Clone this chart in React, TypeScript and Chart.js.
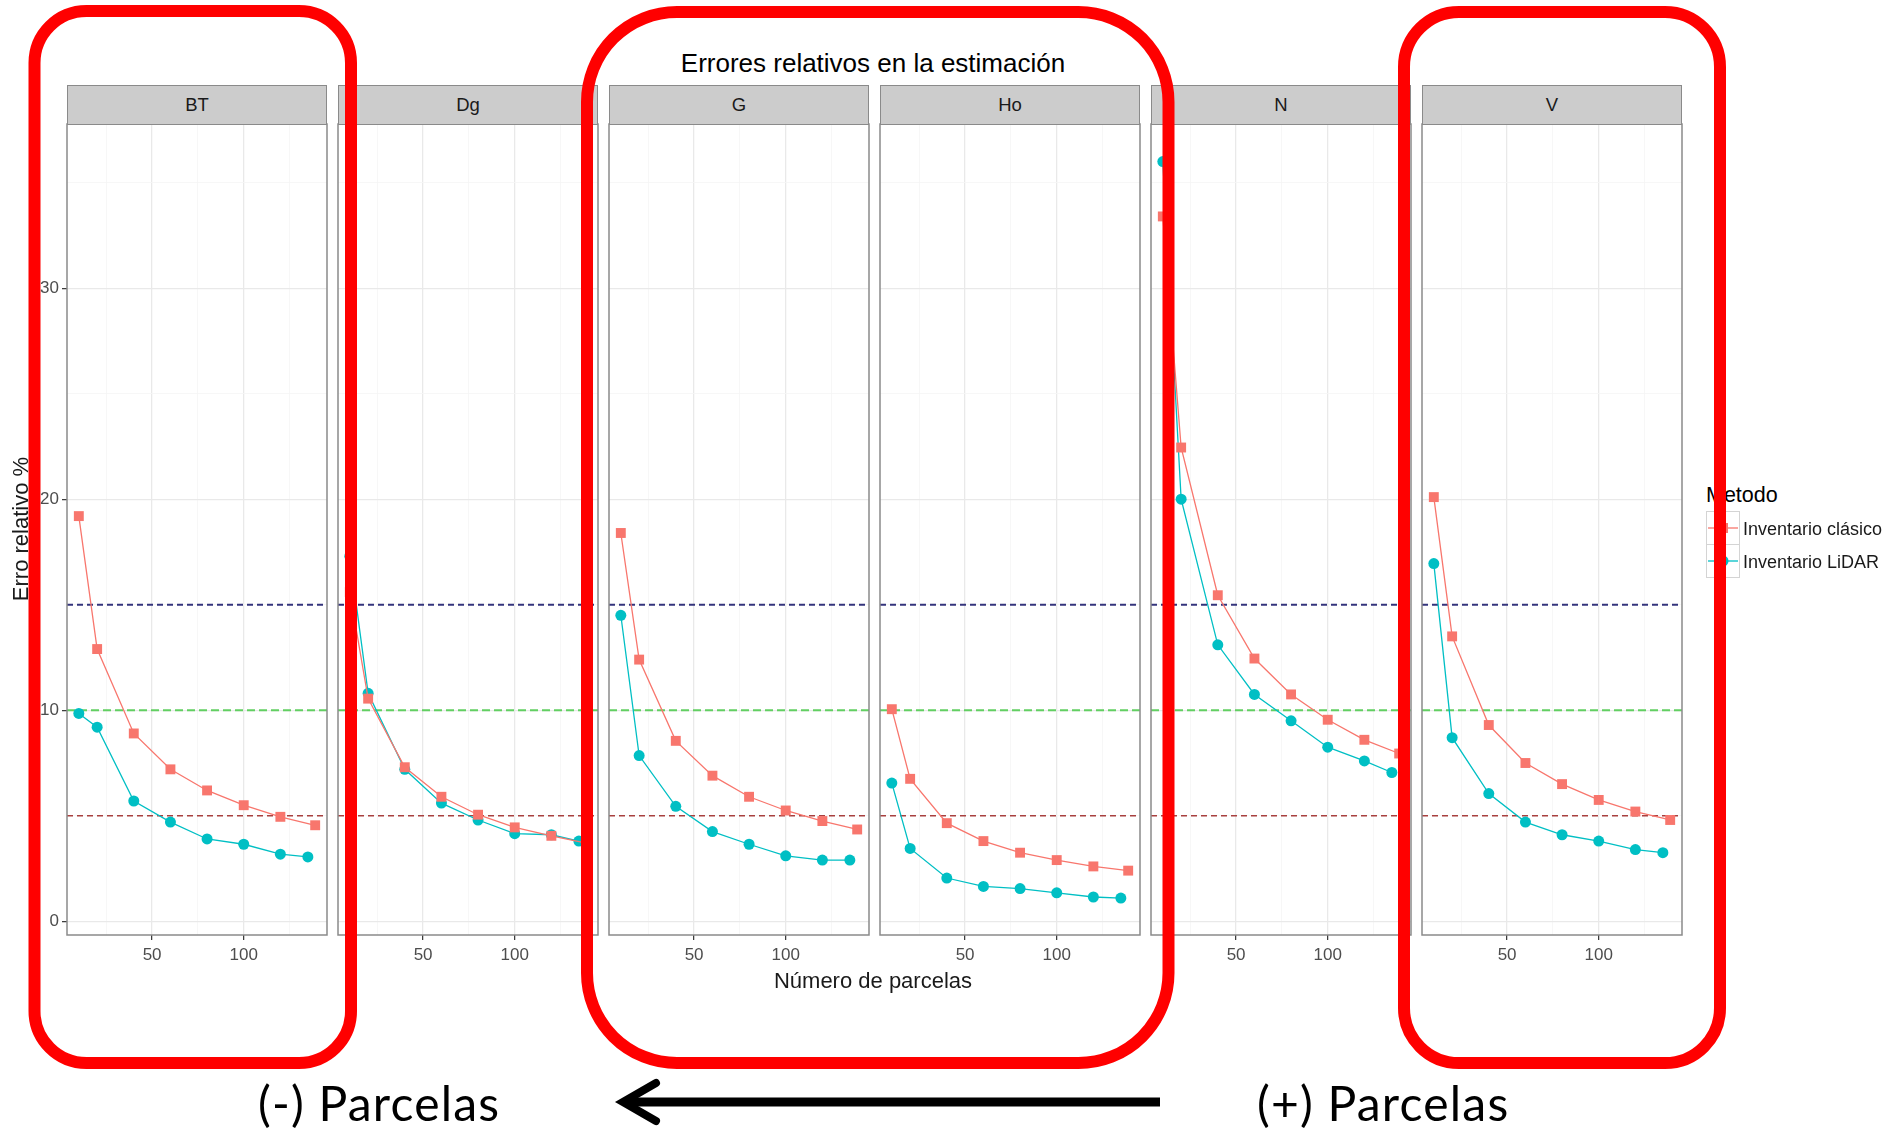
import React, { useEffect, useRef } from 'react';
import { Chart, registerables } from 'chart.js';

Chart.register(...registerables);

// ---------------- data ----------------
const panelNames = ['BT', 'Dg', 'G', 'Ho', 'N', 'V'];
const seriesNames = ['Inventario clásico', 'Inventario LiDAR'];

const xClasico = [10, 20, 40, 60, 80, 100, 120, 139];
const xLidar = [10, 20, 40, 60, 80, 100, 120, 135];

const clasicoBT = [19.2, 12.9, 8.9, 7.2, 6.2, 5.5, 4.95, 4.55];
const lidarBT = [9.85, 9.2, 5.7, 4.7, 3.9, 3.65, 3.18, 3.05];
const clasicoDg = [15.6, 10.55, 7.3, 5.9, 5.05, 4.45, 4.05, 3.7];
const lidarDg = [17.3, 10.8, 7.2, 5.6, 4.8, 4.15, 4.1, 3.8];
const clasicoG = [18.4, 12.4, 8.55, 6.9, 5.9, 5.25, 4.75, 4.35];
const lidarG = [14.5, 7.85, 5.45, 4.25, 3.65, 3.1, 2.9, 2.9];
const clasicoHo = [10.05, 6.75, 4.65, 3.8, 3.25, 2.9, 2.6, 2.4];
const lidarHo = [6.55, 3.45, 2.05, 1.65, 1.55, 1.35, 1.15, 1.1];
const clasicoN = [33.4, 22.45, 15.45, 12.45, 10.75, 9.55, 8.6, 7.95];
const lidarN = [36.0, 20.0, 13.1, 10.75, 9.5, 8.25, 7.6, 7.05];
const clasicoV = [20.1, 13.5, 9.3, 7.5, 6.5, 5.75, 5.2, 4.8];
const lidarV = [16.95, 8.7, 6.05, 4.7, 4.1, 3.8, 3.4, 3.25];

const clasicoByPanel = [clasicoBT, clasicoDg, clasicoG, clasicoHo, clasicoN, clasicoV];
const lidarByPanel = [lidarBT, lidarDg, lidarG, lidarHo, lidarN, lidarV];

const xMajorTicks = [50, 100];
const xMinorTicks = [25, 75, 125];
const yMajorTicks = [0, 10, 20, 30];
const yMinorTicks = [5, 15, 25, 35];

const refLevels = [15, 10, 5];

// ---------------- styles ----------------
const refColors = ['#34347c', '#62cf62', '#a8403f'];
const refDash = [[6, 4], [8, 4], [6, 4]];
const refWidth = [1.8, 2.2, 1.6];
const seriesColors = ['#F8766D', '#00BFC4'];

const X_MIN = 3.55;
const X_MAX = 145.45;
const Y_MIN = -0.65;
const Y_MAX = 37.78;

const PANEL_LEFT0 = 67;
const PANEL_STEP = 271;
const PANEL_W = 260;
const STRIP_TOP = 85;
const STRIP_H = 40;
const PLOT_TOP = 124;
const PLOT_H = 811;
const AXIS_W = 60;
const AXIS_H = 45;
const PAD_R = 12;
const PAD_T = 2;

const FONT = '"Liberation Sans", Arial, sans-serif';

const panelFrame = {
  id: 'panelFrame',
  beforeDatasetsDraw(chart: any) {
    const { ctx, chartArea } = chart;
    const y = chart.scales.y;
    ctx.save();
    refLevels.forEach((lvl, k) => {
      const py = y.getPixelForValue(lvl);
      ctx.beginPath();
      ctx.setLineDash(refDash[k]);
      ctx.strokeStyle = refColors[k];
      ctx.lineWidth = refWidth[k];
      ctx.moveTo(chartArea.left, py);
      ctx.lineTo(chartArea.right, py);
      ctx.stroke();
    });
    ctx.restore();
  },
  afterDraw(chart: any) {
    const { ctx, chartArea } = chart;
    ctx.save();
    ctx.strokeStyle = '#8a8a8a';
    ctx.lineWidth = 1.5;
    ctx.strokeRect(chartArea.left, chartArea.top, chartArea.right - chartArea.left, chartArea.bottom - chartArea.top);
    ctx.restore();
  },
};

const zeroPad = (s: any) => {
  s.paddingTop = 0;
  s.paddingBottom = 0;
  s.paddingLeft = 0;
  s.paddingRight = 0;
};

function makeConfig(i: number): any {
  const showY = i === 0;
  const isXMajor = (v: number) => xMajorTicks.includes(v);
  const isYMajor = (v: number) => yMajorTicks.includes(v);
  return {
    type: 'line',
    data: {
      datasets: [
        {
          label: seriesNames[0],
          data: xClasico.map((x, k) => ({ x, y: clasicoByPanel[i][k] })),
          borderColor: seriesColors[0],
          backgroundColor: seriesColors[0],
          borderWidth: 1.3,
          pointStyle: 'rect',
          pointRadius: 7,
          pointBorderWidth: 0,
          pointBackgroundColor: seriesColors[0],
          tension: 0,
          clip: false,
        },
        {
          label: seriesNames[1],
          data: xLidar.map((x, k) => ({ x, y: lidarByPanel[i][k] })),
          borderColor: seriesColors[1],
          backgroundColor: seriesColors[1],
          borderWidth: 1.3,
          pointStyle: 'circle',
          pointRadius: 5.5,
          pointBorderWidth: 0,
          pointBackgroundColor: seriesColors[1],
          tension: 0,
          clip: false,
        },
      ],
    },
    options: {
      animation: false,
      responsive: false,
      maintainAspectRatio: false,
      events: [],
      layout: { autoPadding: false, padding: { top: PAD_T, right: PAD_R, bottom: 0, left: 0 } },
      plugins: { legend: { display: false }, tooltip: { enabled: false }, title: { display: false } },
      scales: {
        x: {
          type: 'linear',
          min: X_MIN,
          max: X_MAX,
          afterBuildTicks: (s: any) => {
            s.ticks = [...xMinorTicks, ...xMajorTicks].sort((a, b) => a - b).map((v) => ({ value: v }));
          },
          afterFit: (s: any) => {
            s.height = AXIS_H;
            zeroPad(s);
          },
          border: { display: false },
          grid: {
            color: (c: any) => (c.tick && isXMajor(c.tick.value) ? '#e9e9e9' : '#f5f5f5'),
            lineWidth: (c: any) => (c.tick && isXMajor(c.tick.value) ? 1.3 : 0.8),
            drawTicks: true,
            tickLength: 5,
            tickWidth: 1.2,
            tickColor: (c: any) => (c.tick && isXMajor(c.tick.value) ? '#333333' : 'rgba(0,0,0,0)'),
          },
          ticks: {
            autoSkip: false,
            maxRotation: 0,
            minRotation: 0,
            padding: 5,
            color: '#4d4d4d',
            font: { size: 17, family: FONT },
            callback: (v: any) => (isXMajor(v) ? String(v) : ''),
          },
        },
        y: {
          type: 'linear',
          min: Y_MIN,
          max: Y_MAX,
          afterBuildTicks: (s: any) => {
            s.ticks = [...yMajorTicks, ...yMinorTicks].sort((a, b) => a - b).map((v) => ({ value: v }));
          },
          afterFit: (s: any) => {
            s.width = AXIS_W;
            zeroPad(s);
          },
          border: { display: false },
          grid: {
            color: (c: any) => (c.tick && isYMajor(c.tick.value) ? '#e9e9e9' : '#f5f5f5'),
            lineWidth: (c: any) => (c.tick && isYMajor(c.tick.value) ? 1.3 : 0.8),
            drawTicks: true,
            tickLength: 5,
            tickWidth: 1.2,
            tickColor: (c: any) => (showY && c.tick && isYMajor(c.tick.value) ? '#333333' : 'rgba(0,0,0,0)'),
          },
          ticks: {
            autoSkip: false,
            padding: 3,
            color: '#4d4d4d',
            font: { size: 17, family: FONT },
            callback: (v: any) => (showY && isYMajor(v) ? String(v) : ''),
          },
        },
      },
    },
    plugins: [panelFrame],
  };
}

const abs = (style: React.CSSProperties): React.CSSProperties => ({ position: 'absolute', ...style });

export default function App() {
  const refs = useRef<(HTMLCanvasElement | null)[]>([]);

  useEffect(() => {
    const charts = refs.current.map((c, i) => (c ? new Chart(c, makeConfig(i)) : null));
    return () => {
      charts.forEach((ch) => ch && ch.destroy());
    };
  }, []);

  const canvasW = AXIS_W + PANEL_W + PAD_R;
  const canvasH = PAD_T + PLOT_H + AXIS_H;
  const annoFont = 'Lato, "Open Sans", sans-serif';

  return (
    <div
      style={{
        position: 'absolute',
        left: 0,
        top: 0,
        width: 1901,
        height: 1134,
        background: '#ffffff',
        overflow: 'hidden',
        fontFamily: FONT,
      }}
    >
      {panelNames.map((name, i) => {
        const left = PANEL_LEFT0 + i * PANEL_STEP;
        return (
          <React.Fragment key={name}>
            <div style={abs({ left: left - AXIS_W, top: PLOT_TOP - PAD_T, width: canvasW, height: canvasH })}>
              <canvas
                ref={(el) => {
                  refs.current[i] = el;
                }}
                width={canvasW}
                height={canvasH}
                style={{ width: canvasW, height: canvasH, display: 'block' }}
              />
            </div>
            <div
              style={abs({
                left,
                top: STRIP_TOP,
                width: PANEL_W,
                height: STRIP_H,
                boxSizing: 'border-box',
                background: '#cccccc',
                border: '1.5px solid #8a8a8a',
                textAlign: 'center',
                lineHeight: STRIP_H - 3 + 'px',
                fontSize: 18.5,
                color: '#1a1a1a',
              })}
            >
              {name}
            </div>
          </React.Fragment>
        );
      })}

      {/* title */}
      <div style={abs({ left: 473, top: 46, width: 800, height: 34, lineHeight: '34px', textAlign: 'center', fontSize: 26, color: '#000' })}>
        Errores relativos en la estimación
      </div>

      {/* y-axis title */}
      <div
        style={abs({
          left: 21 - 150,
          top: 529 - 15,
          width: 300,
          height: 30,
          lineHeight: '30px',
          textAlign: 'center',
          fontSize: 22,
          color: '#1a1a1a',
          transform: 'rotate(-90deg)',
        })}
      >
        Erro relativo %
      </div>

      {/* x-axis title */}
      <div style={abs({ left: 673, top: 966, width: 400, height: 30, lineHeight: '30px', textAlign: 'center', fontSize: 22, color: '#1a1a1a' })}>
        Número de parcelas
      </div>

      {/* legend */}
      <div style={abs({ left: 1706, top: 480, height: 30, lineHeight: '30px', fontSize: 21.5, color: '#000', whiteSpace: 'nowrap' })}>Metodo</div>
      <svg style={abs({ left: 0, top: 0 })} width={1901} height={1134}>
        {seriesNames.map((s, k) => {
          const top = 511 + k * 33;
          return (
            <g key={s}>
              <rect x={1706.5} y={top + 0.5} width={33} height={33} fill="#ffffff" stroke="#d4d4d4" strokeWidth={1} />
              <line x1={1708} x2={1738} y1={top + 17} y2={top + 17} stroke={seriesColors[k]} strokeWidth={1.3} />
              {k === 0 ? (
                <rect x={1723 - 5} y={top + 17 - 5} width={10} height={10} fill={seriesColors[k]} />
              ) : (
                <circle cx={1723} cy={top + 17} r={5.5} fill={seriesColors[k]} />
              )}
            </g>
          );
        })}
      </svg>
      {seriesNames.map((s, k) => (
        <div
          key={s}
          style={abs({ left: 1743, top: 511 + k * 33 + 3, height: 30, lineHeight: '30px', fontSize: 18, color: '#1a1a1a', whiteSpace: 'nowrap' })}
        >
          {s}
        </div>
      ))}

      {/* annotation texts */}
      <div style={abs({ left: 258, top: 1073, height: 60, lineHeight: '60px', fontSize: 48, letterSpacing: 1.2, fontFamily: annoFont, color: '#000', whiteSpace: 'nowrap' })}>
        (-) Parcelas
      </div>
      <div style={abs({ left: 1257, top: 1073, height: 60, lineHeight: '60px', fontSize: 48, letterSpacing: 1.2, fontFamily: annoFont, color: '#000', whiteSpace: 'nowrap' })}>
        (+) Parcelas
      </div>

      {/* red highlight boxes and arrow */}
      <svg style={abs({ left: 0, top: 0, pointerEvents: 'none' })} width={1901} height={1134}>
        <rect x={34.5} y={11} width={316.5} height={1052} rx={52} ry={52} fill="none" stroke="#ff0000" strokeWidth={12} />
        <rect x={587} y={12} width={581.5} height={1051} rx={90} ry={90} fill="none" stroke="#ff0000" strokeWidth={12} />
        <rect x={1404} y={12} width={316} height={1051} rx={55} ry={55} fill="none" stroke="#ff0000" strokeWidth={12} />
        <line x1={1160} y1={1102} x2={628} y2={1102} stroke="#000" strokeWidth={9} />
        <polyline points="656,1083 623,1102 656,1121" fill="none" stroke="#000" strokeWidth={8} strokeLinecap="round" strokeLinejoin="miter" />
      </svg>
    </div>
  );
}
